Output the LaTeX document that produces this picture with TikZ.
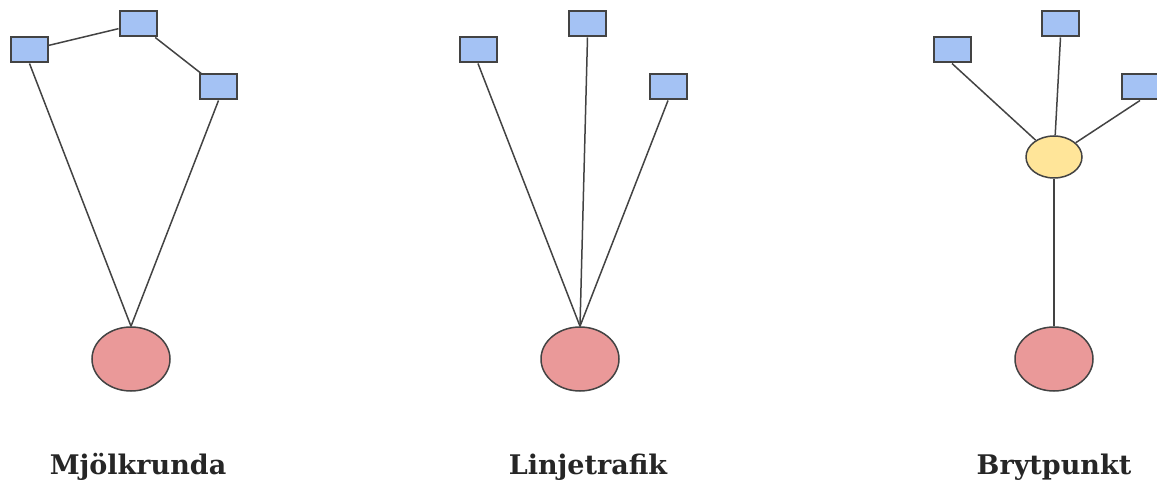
\documentclass[tikz,border=0pt]{standalone}
\usepackage{fontspec}
\newfontfamily\labelfont{DejaVu Serif}
\usetikzlibrary{shapes.geometric}
\definecolor{boxblue}{HTML}{A4C2F4}
\definecolor{hubpink}{HTML}{EA9999}
\definecolor{hubyellow}{HTML}{FFE599}
\definecolor{edge}{HTML}{434343}
\tikzset{
  stop/.style={draw=edge, line width=2pt, fill=boxblue, minimum width=37pt, minimum height=25pt, inner sep=0pt},
  depot/.style={ellipse, draw=edge, line width=1.5pt, fill=hubpink, minimum width=78pt, minimum height=64pt, inner sep=0pt},
  transfer/.style={ellipse, draw=edge, line width=1.5pt, fill=hubyellow, minimum width=56pt, minimum height=42pt, inner sep=0pt},
  link/.style={draw=edge, line width=1.5pt},
  caption/.style={font=\labelfont\bfseries\fontsize{27}{31}\selectfont, anchor=base, text=black!85}
}
\begin{document}
\begin{tikzpicture}[x=1pt, y=-1pt]
\useasboundingbox (0,0) rectangle (1157,486);

% Mjölkrunda: one round trip through all stops
\node[depot] (d1) at (131,359) {};
\node[stop] (a1) at (29.5,50) {};
\node[stop] (a2) at (138,24) {};
\node[stop] (a3) at (218.5,87) {};
\draw[link] (a1.south) -- (d1.north);
\draw[link] (a1) -- (a2);
\draw[link] (a2) -- (a3);
\draw[link] (a3.south) -- (d1.north);
\node[caption] (t1) at (138,474) {Mjölkrunda};

% Linjetrafik: direct lines from the depot
\node[depot] (d2) at (580,359) {};
\node[stop] (b1) at (478,50) {};
\node[stop] (b2) at (587.5,24) {};
\node[stop] (b3) at (668,87) {};
\draw[link] (b1.south) -- (d2.north);
\draw[link] (b2.south) -- (d2.north);
\draw[link] (b3.south) -- (d2.north);
\node[caption] (t2) at (588,474) {Linjetrafik};

% Brytpunkt: trunk to a transfer point, then branches
\node[depot] (d3) at (1054,359) {};
\node[transfer] (h3) at (1054,157) {};
\node[stop] (c1) at (952,50) {};
\node[stop] (c2) at (1060.5,24) {};
\node[stop] (c3) at (1140,87) {};
\draw[link] (c1.south) -- (h3);
\draw[link] (c2.south) -- (h3);
\draw[link] (c3.south) -- (h3);
\draw[link] (h3.south) -- (d3.north);
\node[caption] (t3) at (1054,474) {Brytpunkt};
\end{tikzpicture}
\end{document}
